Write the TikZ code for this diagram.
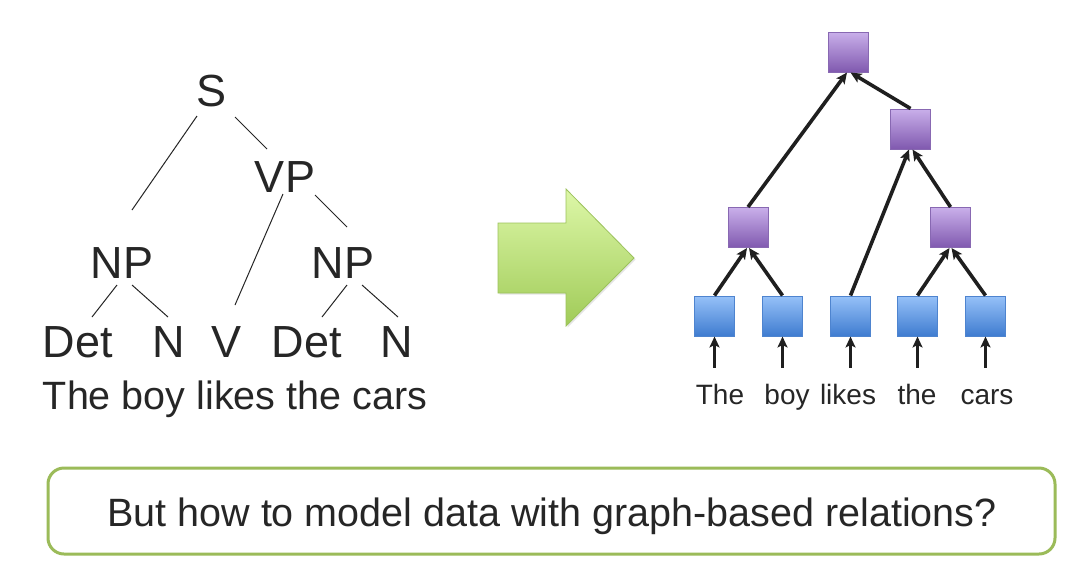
\documentclass[tikz,border=0pt]{standalone}
\usepackage{fontspec}
\setmainfont{Liberation Sans}
\usetikzlibrary{arrows.meta,calc,shadows}
\definecolor{txt}{HTML}{262626}
\definecolor{purtop}{HTML}{C9AFEA}
\definecolor{purbot}{HTML}{8059AF}
\definecolor{purdraw}{HTML}{8868B2}
\definecolor{blutop}{HTML}{96C1F8}
\definecolor{blubot}{HTML}{3F7CD0}
\definecolor{bludraw}{HTML}{4E84CF}
\definecolor{grntop}{HTML}{DDF7A8}
\definecolor{grnbot}{HTML}{A0CB58}
\definecolor{grndraw}{HTML}{9CC25C}
\definecolor{boxdraw}{HTML}{9BBB59}
\tikzset{
  lbl/.style={anchor=base, inner sep=0pt, text=txt, font=\fontsize{45}{50}\selectfont},
  tline/.style={draw=txt, line width=1pt},
  sq/.style={minimum size=40pt, inner sep=0pt, line width=1pt},
  purp/.style={sq, draw=purdraw, top color=purtop, bottom color=purbot},
  blu/.style={sq, draw=bludraw, top color=blutop, bottom color=blubot},
  arr/.style={draw=black!88, line width=3.6pt, -{Stealth[length=11pt,width=10pt,inset=2.5pt]}},
  word/.style={anchor=base, inner sep=0pt, text=txt, font=\fontsize{28}{32}\selectfont},
}
\begin{document}
\begin{tikzpicture}[x=1pt,y=-1pt]
\useasboundingbox (0,0) rectangle (1079,566);
\fill[white] (0,0) rectangle (1079,566);

% ---- left parse tree ----
\node[lbl] (S)   at (212,106) {S};
\node[lbl] (VP)  at (285,192) {VP};
\node[lbl] (NP1) at (122,278) {NP};
\node[lbl] (NP2) at (343,278) {NP};
\node[lbl] (D1)  at (78,357)  {Det};
\node[lbl] (N1)  at (169,357) {N};
\node[lbl] (V)   at (227,357) {V};
\node[lbl] (D2)  at (307,357) {Det};
\node[lbl] (N2)  at (397,357) {N};
\node[anchor=base, inner sep=0pt, text=txt, font=\fontsize{39.5}{44}\selectfont] (sent) at (235,409) {The boy likes the cars};

\coordinate (sA) at (197,116); \coordinate (nA) at (132,210);
\coordinate (sB) at (235,117); \coordinate (vB) at (267,149);
\coordinate (vC) at (283,194); \coordinate (vvC) at (235,305);
\coordinate (vD) at (315,195); \coordinate (nD) at (347,227);
\coordinate (n1a) at (117,285); \coordinate (d1a) at (92,317);
\coordinate (n1b) at (132,285); \coordinate (nn1) at (168,317);
\coordinate (n2a) at (347,285); \coordinate (d2a) at (322,317);
\coordinate (n2b) at (362,285); \coordinate (nn2) at (398,317);
\draw[tline] (sA) -- (nA);
\draw[tline] (sB) -- (vB);
\draw[tline] (vC) -- (vvC);
\draw[tline] (vD) -- (nD);
\draw[tline] (n1a) -- (d1a);
\draw[tline] (n1b) -- (nn1);
\draw[tline] (n2a) -- (d2a);
\draw[tline] (n2b) -- (nn2);

% ---- green arrow ----
\path[draw=grndraw, line width=0.8pt, top color=grntop, bottom color=grnbot, drop shadow={opacity=0.2, shadow xshift=1.5pt, shadow yshift=-1.5pt}]
  (498,223) -- (566,223) -- (566,189) -- (634,258) -- (566,326) -- (566,293) -- (498,293) -- cycle;

% ---- right tree ----
\node[purp] (top) at (848.5,52) {};
\node[purp] (mr)  at (910.5,129) {};
\node[purp] (pl)  at (748,227.5) {};
\node[purp] (pr)  at (950.5,227.5) {};
\node[blu] (b1) at (714.5,316) {};
\node[blu] (b2) at (782.5,316) {};
\node[blu] (b3) at (850.5,316) {};
\node[blu] (b4) at (917.5,316) {};
\node[blu] (b5) at (985.5,316) {};

\draw[arr] (b1.north) -- ($(pl.south)+(-1,0)$);
\draw[arr] (b2.north) -- ($(pl.south)+(1,0)$);
\draw[arr] (b4.north) -- ($(pr.south)+(-1,0)$);
\draw[arr] (b5.north) -- ($(pr.south)+(1,0)$);
\draw[arr] (b3.north) -- ($(mr.south)+(-1.5,0)$);
\draw[arr] (pr.north) -- ($(mr.south)+(2,0)$);
\draw[arr] (pl.north) -- ($(top.south)+(-1.5,0)$);
\draw[arr] (mr.north) -- ($(top.south)+(2,0)$);

\foreach \i in {1,...,5}{
  \draw[arr] ($(b\i.south)+(0,31)$) -- (b\i.south);
}

\node[word] (w1) at (720,404) {The};
\node[word] (w2) at (787,404) {boy};
\node[word] (w3) at (848,404) {likes};
\node[word] (w4) at (917,404) {the};
\node[word] (w5) at (987,404) {cars};

% ---- bottom box ----
\node[draw=boxdraw, line width=3pt, rounded corners=16pt, minimum width=1007pt, minimum height=86pt, inner sep=0pt] (q) at (551.5,511) {};
\node[anchor=base, inner sep=0pt, text=txt, font=\fontsize{39.5}{44}\selectfont] (qt) at (552,526) {But how to model data with graph-based relations?};
\end{tikzpicture}
\end{document}
